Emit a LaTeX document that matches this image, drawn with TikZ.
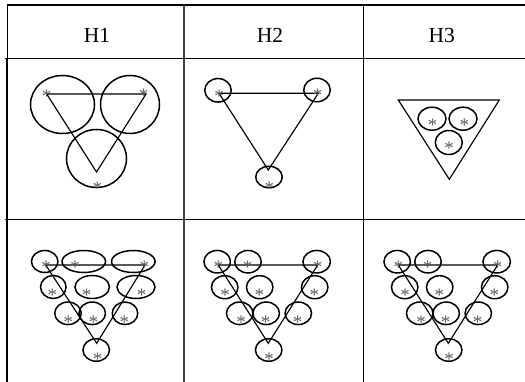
\documentclass[tikz,border=0pt]{standalone}
\usepackage{fontspec}
\setmainfont{Liberation Serif}
\usetikzlibrary{shapes.geometric}
\tikzset{e/.style 2 args={draw,ellipse,line width=1.5pt,inner sep=0pt,outer sep=0pt,minimum width=#1,minimum height=#2}}
\tikzset{s/.style={black!65,inner sep=0pt,yshift=-2pt,font=\fontsize{19}{19}\selectfont}}
\tikzset{h/.style={font=\fontsize{21.5}{21.5}\selectfont}}
\tikzset{t/.style={line width=1.15pt}}
\tikzset{g/.style={line width=1.2pt}}
\begin{document}
\begin{tikzpicture}[x=1pt,y=-1pt]
  \useasboundingbox (0,0) rectangle (525,382);
  \draw[g] (7.3,5) -- (525,5);
  \draw[g] (5,58.3) -- (58,58.3);
  \draw[line width=0.7pt] (58,58) -- (137,58);
  \draw[g] (137,58.3) -- (525,58.3);
  \draw[g] (5,219.3) -- (525,219.3);
  \draw[g] (7.3,5) -- (7.3,58.3);
  \draw[line width=2.2pt] (7.3,58.3) -- (7.3,382);
  \draw[g,black!75] (184,5) -- (184,382);
  \draw[g] (363.3,5) -- (363.3,382);
  \node[h] (h1) at (97,35) {H1};
  \node[h] (h2) at (270,35) {H2};
  \node[h] (h3) at (441.7,35) {H3};
  \node[e={64}{58}] (a1) at (62.5,104.5) {};
  \node[e={59}{58}] (a2) at (130,104.5) {};
  \node[e={60}{58}] (a3) at (96.5,158.5) {};
  \coordinate (a4) at (46.7,94);
  \coordinate (a5) at (146,94);
  \coordinate (a6) at (96.5,172);
  \draw[t] (a4) -- (a5) -- (a6) -- cycle;
  \node[s] (sa1) at (46.7,94) {*};
  \node[s] (sa2) at (143.5,93.5) {*};
  \node[s] (sa3) at (97.3,186) {*};
  \node[e={26.5}{23.5}] (b1) at (218,90.3) {};
  \node[e={26.5}{23.5}] (b2) at (317,90) {};
  \node[e={26.5}{21.5}] (b3) at (269,177) {};
  \coordinate (b4) at (219,93.3);
  \coordinate (b5) at (318.3,93.3);
  \coordinate (b6) at (268.3,170);
  \draw[t] (b4) -- (b5) -- (b6) -- cycle;
  \node[s] (sb1) at (219,94) {*};
  \node[s] (sb2) at (317.7,93) {*};
  \node[s] (sb3) at (269.3,186.7) {*};
  \coordinate (c4) at (398.3,100);
  \coordinate (c5) at (499.3,100);
  \coordinate (c6) at (449.3,179.3);
  \draw[t] (c4) -- (c5) -- (c6) -- cycle;
  \node[e={28}{23}] (c1) at (432,118.7) {};
  \node[e={28}{23}] (c2) at (463,118.7) {};
  \node[e={27}{24}] (c3) at (448.8,142.5) {};
  \node[s] (sc1) at (432.7,123.3) {*};
  \node[s] (sc2) at (464.3,123.3) {*};
  \node[s] (sc3) at (449,146.7) {*};
  \node[e={26.5}{22}] (d1) at (44.7,261.5) {};
  \node[e={43.5}{22}] (d2) at (83.8,261.5) {};
  \node[e={43.5}{22}] (d3) at (133.3,261.5) {};
  \node[e={25.5}{23}] (d4) at (53.3,287) {};
  \node[e={34.5}{23}] (d5) at (92.2,287) {};
  \node[e={38}{23}] (d6) at (136,287) {};
  \node[e={26.5}{22.5}] (d7) at (68,313.3) {};
  \node[e={26.5}{22.5}] (d8) at (92.2,313.3) {};
  \node[e={25.5}{22.5}] (d9) at (125,313.3) {};
  \node[e={26.5}{22.5}] (d10) at (96.2,350) {};
  \coordinate (d11) at (45.7,265);
  \coordinate (d12) at (145,265);
  \coordinate (d13) at (96.7,343.3);
  \draw[t] (d11) -- (d12) -- (d13) -- cycle;
  \node[s] (sd1) at (46,265) {*};
  \node[s] (sd2) at (75,265) {*};
  \node[s] (sd3) at (144.3,265) {*};
  \node[s] (sd4) at (52.3,293.3) {*};
  \node[s] (sd5) at (86.7,293.3) {*};
  \node[s] (sd6) at (141.7,293.3) {*};
  \node[s] (sd7) at (68.3,320) {*};
  \node[s] (sd8) at (93.3,320) {*};
  \node[s] (sd9) at (124.3,320) {*};
  \node[s] (sd10) at (97.7,357.3) {*};
  \foreach \dx/\k in {0/f,180/k}{
    \begin{scope}[xshift=\dx]
      \node[e={26.5}{22.5}] (\k1) at (217.2,261.7) {};
      \node[e={26.5}{22.5}] (\k2) at (248,261.7) {};
      \node[e={27.5}{22.5}] (\k3) at (316.7,261.7) {};
      \node[e={26.5}{23}] (\k4) at (224.7,287.2) {};
      \node[e={26.5}{23}] (\k5) at (259.7,287.2) {};
      \node[e={26.5}{23}] (\k6) at (314.7,287.2) {};
      \node[e={26.5}{22.5}] (\k7) at (239.7,313.3) {};
      \node[e={26.5}{22.5}] (\k8) at (266.2,313.3) {};
      \node[e={26.5}{22.5}] (\k9) at (298.3,313.3) {};
      \node[e={26.5}{22.5}] (\k10) at (268.7,350) {};
      \coordinate (\k11) at (218.3,265);
      \coordinate (\k12) at (317.7,265);
      \coordinate (\k13) at (268.3,343.3);
      \draw[t] (\k11) -- (\k12) -- (\k13) -- cycle;
      \node[s] (s\k1) at (218.3,265) {*};
      \node[s] (s\k2) at (247.7,265) {*};
      \node[s] (s\k3) at (317.7,265) {*};
      \node[s] (s\k4) at (225,293.3) {*};
      \node[s] (s\k5) at (259.3,293.3) {*};
      \node[s] (s\k6) at (314.3,293.3) {*};
      \node[s] (s\k7) at (241,320) {*};
      \node[s] (s\k8) at (265.7,320) {*};
      \node[s] (s\k9) at (297.7,320) {*};
      \node[s] (s\k10) at (269,357.3) {*};
    \end{scope}
  }
\end{tikzpicture}
\end{document}
